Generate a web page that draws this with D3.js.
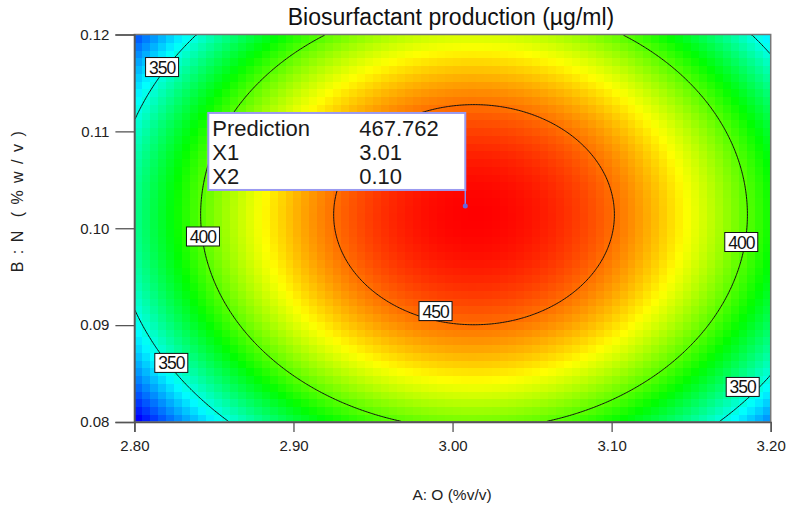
<!DOCTYPE html>
<meta charset="utf-8">
<script src="https://d3js.org/d3.v7.min.js"></script>
<style>
  body { margin: 0; background: #fff; }
  text { font-family: Arial, "Liberation Sans", sans-serif; }
</style>
<div id="chart"></div>
<script>

// axes
var xDomain = [2.80, 3.20];
var yDomain = [0.08, 0.12];
var xTicks = [2.80, 2.90, 3.00, 3.10, 3.20];
var yTicks = [0.08, 0.09, 0.10, 0.11, 0.12];

// quadratic response surface, coefficients
var peakAB = [3.0135, 0.1014];
var peakValue = [467.9];
var curvature = [2299, 138670];

// contour levels and where their labels sit
var contourLevels = [350, 400, 450];
var labelLevels = [350, 400, 450, 400, 350, 350];
var labelA = [2.8174, 2.8431, 2.9893, 3.1815, 2.8232, 3.1824];
var labelB = [0.11664, 0.09915, 0.09145, 0.09858, 0.08610, 0.08362];

// prediction flag
var flagNames = ["Prediction", "X1", "X2"];
var flagValues = ["467.762", "3.01", "0.10"];
var flagPoint = [3.008, 0.1023];

var width = 790, height = 509;
var margin = {left: 134.4, right: 770.7, top: 34.5, bottom: 422};

var svg = d3.select("#chart")
  .append("svg")
    .attr("width", width)
    .attr("height", height);

svg.append("rect").attr("width", width).attr("height", height).attr("fill", "#fff");

var x = d3.scaleLinear().domain(xDomain).range([margin.left, margin.right]);
var y = d3.scaleLinear().domain(yDomain).range([margin.bottom, margin.top]);

function surface(a, b) {
  var da = a - peakAB[0], db = b - peakAB[1];
  return peakValue[0] - curvature[0] * da * da - curvature[1] * db * db;
}

// heat map cells
var nx = 80, ny = 50;
var cells = [];
for (var j = 0; j < ny; j++) {
  for (var i = 0; i < nx; i++) {
    var a = xDomain[0] + (i + 0.5) / nx * (xDomain[1] - xDomain[0]);
    var b = yDomain[0] + (j + 0.5) / ny * (yDomain[1] - yDomain[0]);
    cells.push({i: i, j: j, v: surface(a, b)});
  }
}
var vMin = d3.min(cells, d => d.v), vMax = d3.max(cells, d => d.v);
var color = d3.scaleLinear()
  .domain(d3.range(5).map(k => vMin + k / 4 * (vMax - vMin)))
  .range(["#0000ff", "#00ffff", "#00ff00", "#ffff00", "#ff0000"])
  .clamp(true);

var cw = (margin.right - margin.left) / nx, ch = (margin.bottom - margin.top) / ny;
svg.append("g")
  .selectAll("rect")
  .data(cells)
  .enter().append("rect")
    .attr("x", d => margin.left + d.i * cw)
    .attr("y", d => margin.bottom - (d.j + 1) * ch)
    .attr("width", cw + 0.6)
    .attr("height", ch + 0.6)
    .attr("fill", d => color(d.v))
    .attr("shape-rendering", "crispEdges");

// contour lines from a finer grid
var gx = 400, gy = 250;
var grid = new Array(gx * gy);
for (var j = 0; j < gy; j++) {
  for (var i = 0; i < gx; i++) {
    var a = xDomain[0] + (i + 0.5) / gx * (xDomain[1] - xDomain[0]);
    var b = yDomain[1] - (j + 0.5) / gy * (yDomain[1] - yDomain[0]);
    grid[j * gx + i] = surface(a, b);
  }
}
var contours = d3.contours().size([gx, gy]).thresholds(contourLevels)(grid);
var path = d3.geoPath(d3.geoTransform({
  point: function (px, py) {
    this.stream.point(margin.left + px / gx * (margin.right - margin.left),
                      margin.top + py / gy * (margin.bottom - margin.top));
  }
}));

svg.append("clipPath").attr("id", "plotClip")
  .append("rect").attr("x", margin.left).attr("y", margin.top)
  .attr("width", margin.right - margin.left).attr("height", margin.bottom - margin.top);

svg.append("g")
    .attr("clip-path", "url(#plotClip)")
  .selectAll("path")
  .data(contours)
  .enter().append("path")
    .attr("d", path)
    .attr("fill", "none")
    .attr("stroke", "#111")
    .attr("stroke-width", 1);

// frame
svg.append("rect")
  .attr("x", margin.left).attr("y", margin.top)
  .attr("width", margin.right - margin.left).attr("height", margin.bottom - margin.top)
  .attr("fill", "none")
  .attr("stroke", "#777")
  .attr("stroke-width", 1.5);

// axes
var xAxis = svg.append("g")
  .attr("transform", "translate(0," + margin.bottom + ")")
  .call(d3.axisBottom(x).tickValues(xTicks).tickFormat(d3.format(".2f")).tickSize(10).tickPadding(8));
var yAxis = svg.append("g")
  .attr("transform", "translate(" + margin.left + ",0)")
  .call(d3.axisLeft(y).tickValues(yTicks).tickFormat(d3.format(".2f")).tickSize(19).tickPadding(6));
[xAxis, yAxis].forEach(function (g) {
  g.select(".domain").attr("stroke", "#555").attr("stroke-width", 1.5);
  g.selectAll(".tick line").attr("stroke", "#555").attr("stroke-width", 1.3);
  g.selectAll(".tick text")
    .attr("font-family", "Arial, 'Liberation Sans', sans-serif")
    .attr("font-size", 15)
    .attr("fill", "#222");
});

// contour labels
var labels = svg.append("g")
  .selectAll("g")
  .data(labelLevels.map((lv, k) => ({level: lv, a: labelA[k], b: labelB[k]})))
  .enter().append("g")
    .attr("transform", d => "translate(" + x(d.a) + "," + y(d.b) + ")");
labels.append("rect")
  .attr("x", -16.5).attr("y", -9.5)
  .attr("width", 33).attr("height", 19)
  .attr("fill", "#fff")
  .attr("stroke", "#111")
  .attr("stroke-width", 1);
labels.append("text")
  .attr("text-anchor", "middle")
  .attr("y", 6.5)
  .attr("font-size", 17.5)
  .attr("letter-spacing", -1)
  .attr("fill", "#111")
  .text(d => d.level);

// prediction flag
var fx = x(flagPoint[0]), fy = y(flagPoint[1]);
var flag = svg.append("g");
flag.append("line")
  .attr("x1", fx).attr("x2", fx)
  .attr("y1", fy - 16).attr("y2", fy)
  .attr("stroke", "#8888ee").attr("stroke-width", 1.5);
flag.append("circle")
  .attr("cx", fx).attr("cy", fy).attr("r", 2.5)
  .attr("fill", "#6666dd");
flag.append("rect")
  .attr("x", fx - 257).attr("y", fy - 93)
  .attr("width", 257).attr("height", 77)
  .attr("fill", "#fff")
  .attr("stroke", "#9a9af0")
  .attr("stroke-width", 2);
flagNames.forEach(function (n, k) {
  flag.append("text")
    .attr("x", fx - 253).attr("y", fy - 70 + k * 24)
    .attr("font-size", 22).attr("fill", "#1a1a1a")
    .text(n);
  flag.append("text")
    .attr("x", fx - 106).attr("y", fy - 70 + k * 24)
    .attr("font-size", 22).attr("fill", "#1a1a1a")
    .text(flagValues[k]);
});

// titles
svg.append("text")
  .attr("x", 451).attr("y", 25)
  .attr("text-anchor", "middle")
  .attr("font-size", 23)
  .attr("fill", "#111")
  .text("Biosurfactant production (µg/ml)");

svg.append("text")
  .attr("x", 452).attr("y", 500)
  .attr("text-anchor", "middle")
  .attr("font-size", 15.5)
  .attr("fill", "#222")
  .text("A: O (%v/v)");

svg.append("text")
  .attr("transform", "translate(23,201) rotate(-90)")
  .attr("text-anchor", "middle")
  .attr("font-size", 16)
  .attr("letter-spacing", 1.5)
  .attr("fill", "#222")
  .attr("xml:space", "preserve")
  .text("B : N  ( % w / v )");

</script>
